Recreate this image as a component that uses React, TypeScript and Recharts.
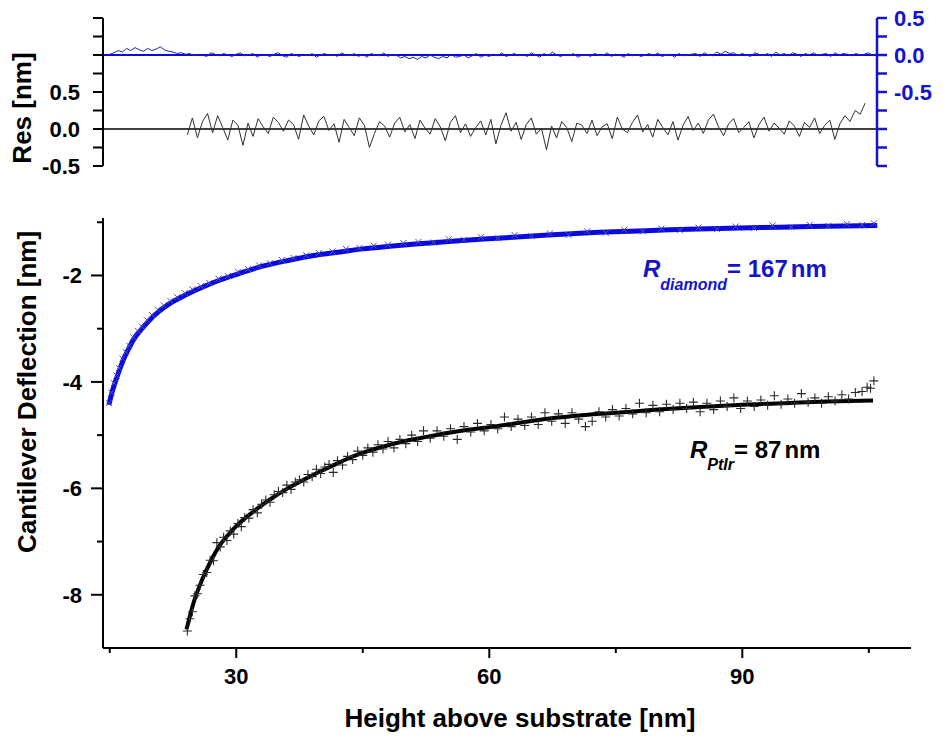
import React from "react";
import { ComposedChart, Line, Scatter, XAxis, YAxis, ReferenceLine } from "recharts";

const FONT = "'Liberation Sans', Arial, Helvetica, sans-serif";
const BLUE = "#1414cc";
const BLUE_LINE = "#0a0ae0";

// main panel: fitted curves [height, deflection]
const diamondFit = [
  [14.9, -4.43], [15.3, -4.18], [15.6, -4.03], [16.1, -3.8], [16.6, -3.59], [17.2, -3.39],
  [17.8, -3.21], [18.7, -3.02], [19.7, -2.84], [20.8, -2.68], [22.1, -2.53], [23.8, -2.38],
  [25.7, -2.24], [28, -2.09], [30.4, -1.96], [33, -1.83], [36.4, -1.71], [39, -1.63],
  [42.3, -1.56], [45, -1.5], [48.2, -1.45], [52, -1.4], [56, -1.35], [61, -1.3],
  [67, -1.24], [73, -1.19], [80, -1.15], [86, -1.12], [92, -1.1], [98, -1.08], [106, -1.06],
];

const ptirFit = [
  [24.1, -8.65], [25, -8.12], [26, -7.7], [27, -7.36], [28, -7.08], [29, -6.88], [30, -6.71],
  [32, -6.44], [34, -6.21], [36, -6.01], [38, -5.84], [40, -5.68], [42, -5.53], [44, -5.39],
  [46, -5.28], [48, -5.19], [50, -5.11], [52, -5.05], [55, -4.96], [58, -4.89], [60, -4.85],
  [63, -4.78], [66, -4.71], [70, -4.64], [75, -4.58], [80, -4.52], [85, -4.47], [90, -4.43],
  [95, -4.4], [100, -4.37], [105.5, -4.35],
];

// measured points
const diamondData = [
  [14.9, -4.4], [15.2, -4.2], [15.5, -4.02], [15.8, -3.88], [16.1, -3.74], [16.5, -3.56],
  [16.9, -3.44], [17.3, -3.32], [17.8, -3.16], [18.3, -3.04], [18.8, -2.96], [19.4, -2.84],
  [20.0, -2.74], [20.7, -2.64], [21.4, -2.56], [22.2, -2.48], [23.0, -2.41], [23.9, -2.33],
  [24.8, -2.26], [25.8, -2.2], [26.8, -2.14], [27.9, -2.06], [29.0, -2.01], [30.2, -1.93],
  [31.4, -1.88], [32.7, -1.81], [34.0, -1.77], [35.4, -1.71], [36.8, -1.67], [38.3, -1.62],
  [39.8, -1.58], [41.4, -1.55], [43.0, -1.5], [44.6, -1.48], [46.3, -1.44], [48.0, -1.42],
  [49.8, -1.39], [51.6, -1.37], [53.4, -1.38], [55.2, -1.32], [57.0, -1.33], [59.0, -1.28],
  [61.0, -1.3], [63.0, -1.24], [65.0, -1.26], [67.2, -1.21], [69.4, -1.24], [71.6, -1.17],
  [73.8, -1.2], [76.0, -1.14], [78.2, -1.17], [80.4, -1.12], [82.6, -1.15], [84.8, -1.1],
  [87.0, -1.13], [89.2, -1.08], [91.4, -1.11], [93.6, -1.06], [95.8, -1.09], [98.0, -1.05],
  [100.2, -1.07], [102.4, -1.03], [104.2, -1.05], [105.6, -1.02],
];

const ptirData = [
  [24.2, -8.68], [24.5, -8.45], [24.8, -8.32], [25.1, -8.02], [25.4, -7.98], [25.7, -7.82],
  [26.1, -7.62], [26.5, -7.58], [26.9, -7.35], [27.3, -7.36], [27.7, -7.02], [28.1, -7.1],
  [28.5, -6.92], [28.9, -6.98], [29.3, -6.8], [29.7, -6.86], [30.2, -6.66], [30.6, -6.72],
  [31.0, -6.55], [31.5, -6.56], [32.0, -6.4], [32.5, -6.46], [33.0, -6.3], [33.5, -6.22],
  [34.0, -6.26], [34.5, -6.12], [35.0, -6.06], [35.5, -6.08], [36.0, -5.94], [36.5, -6.02],
  [37.0, -5.88], [37.5, -5.84], [38.0, -5.88], [38.5, -5.74], [39.0, -5.78], [39.5, -5.64],
  [40.0, -5.72], [40.5, -5.6], [41.0, -5.55], [41.5, -5.7], [42.0, -5.48], [42.6, -5.56],
  [43.2, -5.4], [43.8, -5.46], [44.4, -5.3], [45.0, -5.38], [45.6, -5.24], [46.2, -5.32],
  [46.8, -5.18], [47.4, -5.26], [48.0, -5.12], [48.7, -5.24], [49.4, -5.08], [50.1, -5.16],
  [50.8, -5.0], [51.5, -5.12], [52.2, -4.92], [53.0, -5.06], [53.8, -4.92], [54.6, -5.02],
  [55.4, -4.88], [56.2, -5.08], [57.0, -4.84], [57.8, -4.94], [58.6, -4.78], [59.4, -4.92],
  [60.2, -4.8], [61.0, -4.88], [61.8, -4.66], [62.6, -4.84], [63.4, -4.7], [64.2, -4.82],
  [65.0, -4.66], [65.8, -4.8], [66.6, -4.58], [67.4, -4.74], [68.2, -4.6], [69.0, -4.78],
  [69.8, -4.58], [70.6, -4.7], [71.4, -4.84], [72.2, -4.74], [73.0, -4.56], [73.8, -4.66],
  [74.6, -4.52], [75.4, -4.64], [76.2, -4.5], [77.0, -4.6], [77.8, -4.4], [78.6, -4.58],
  [79.4, -4.44], [80.2, -4.56], [81.0, -4.42], [81.8, -4.52], [82.6, -4.4], [83.4, -4.5],
  [84.2, -4.38], [85.0, -4.56], [85.8, -4.4], [86.6, -4.52], [87.4, -4.36], [88.2, -4.46],
  [89.0, -4.3], [89.8, -4.5], [90.6, -4.36], [91.4, -4.46], [92.2, -4.34], [93.0, -4.44],
  [93.8, -4.26], [94.6, -4.42], [95.4, -4.32], [96.2, -4.4], [97.0, -4.22], [97.8, -4.38],
  [98.6, -4.3], [99.4, -4.4], [100.2, -4.28], [101.0, -4.36], [101.8, -4.24], [102.6, -4.32],
  [103.4, -4.2], [104.2, -4.18], [104.8, -4.1], [105.2, -4.12], [105.6, -3.98],
];

// residuals, sampled on a regular height grid
const diamondResStart = 15;
const diamondResStep = 0.5;
const diamondRes = [
  0.01, 0.03, 0.06, 0.04, 0.09, 0.06, 0.1, 0.07, 0.05, 0.09,
  0.06, 0.08, 0.11, 0.07, 0.05, 0.04, 0.02, 0.03, 0.01,
  0.02, -0.01, 0.01, 0.0, -0.02, 0.03, 0.01, -0.01, 0.02, 0.0,
  -0.02, 0.01, 0.03, -0.01, 0.0, 0.02, -0.03, 0.01, 0.0, -0.02,
  0.01, 0.03, -0.01, -0.03, 0.02, 0.0, -0.02, 0.01, -0.01, 0.02,
  -0.03, 0.0, 0.02, -0.01, 0.01, -0.02, 0.03, 0.0, -0.01, 0.02,
  -0.02, 0.01, -0.03, 0.02, 0.0, -0.01, 0.03, -0.02, 0.01, 0.0,
  -0.04, -0.02, -0.05, -0.03, -0.06, -0.02, -0.04, 0.0, -0.03, -0.05,
  -0.02, -0.04, 0.01, -0.03, -0.02, 0.0, -0.04, -0.01, 0.02, -0.03,
  0.0, -0.02, 0.01, -0.01, 0.03, -0.02, 0.0, 0.02, -0.01, 0.01,
  -0.02, 0.03, 0.0, -0.03, 0.02, -0.01, 0.04, 0.0, -0.02, 0.01,
  -0.01, 0.02, -0.03, 0.0, 0.01, -0.02, 0.02, 0.0, -0.01, 0.03,
  -0.02, 0.01, 0.0, -0.03, 0.02, -0.01, 0.01, -0.02, 0.0, 0.02,
  -0.01, 0.03, -0.02, 0.0, 0.01, -0.03, 0.02, -0.01, 0.0, 0.01,
  0.02, -0.02, 0.03, 0.0, -0.01, 0.04, 0.01, 0.05, 0.02, 0.03,
  -0.01, 0.02, 0.0, -0.02, 0.03, 0.01, -0.01, 0.02, -0.02, 0.04,
  0.0, 0.02, -0.01, 0.03, 0.01, -0.02, 0.02, 0.0, 0.03, -0.01,
  0.01, 0.02, -0.02, 0.03, 0.0, 0.02, 0.01, -0.01, 0.02, 0.0,
  0.01, 0.03, -0.01, 0.02,
];

const ptirResStart = 24.2;
const ptirResStep = 0.6;
const ptirRes = [
  -0.08, 0.15, -0.12, 0.1, 0.21, -0.05, 0.18, 0.02, -0.15, 0.12,
  0.05, -0.22, 0.08, -0.1, 0.14, 0.03, -0.06, 0.16, 0.09, -0.03,
  0.12, 0.06, -0.14, 0.19, 0.04, -0.08, 0.11, 0.17, -0.02, 0.07,
  -0.18, 0.13, 0.02, -0.09, 0.15, 0.05, -0.25, -0.06, 0.1, 0.04,
  -0.11, 0.08, 0.16, -0.04, 0.06, -0.13, 0.12, 0.01, -0.07, 0.14,
  0.03, -0.16, 0.09, 0.18, -0.05, 0.07, -0.1, 0.02, 0.11, -0.08,
  0.13, -0.2, 0.05, 0.22, -0.03, 0.09, -0.14, 0.06, 0.15, -0.07,
  0.01, -0.28, 0.04, -0.12, 0.1, 0.02, -0.17, 0.08, 0.05, -0.06,
  0.12, -0.09, 0.03, 0.07, -0.13, 0.16, 0.0, -0.05, 0.09, 0.19,
  -0.04, 0.06, -0.11, 0.13, 0.02, -0.08, 0.1, -0.15, 0.05, 0.17,
  -0.02, 0.08, -0.06, 0.12, 0.2, 0.03, -0.09, 0.07, 0.14, -0.05,
  0.02, 0.1, -0.12, 0.06, 0.16, -0.03, 0.08, 0.01, -0.07, 0.11,
  0.04, -0.1, 0.09, 0.02, 0.15, -0.06, 0.05, 0.12, -0.14, 0.07,
  0.18, 0.1, 0.25, 0.2, 0.35,
];

const xTicks = [15, 30, 45, 60, 75, 90, 105];
const xLabels = [30, 60, 90];
const yTicks = [-8, -7, -6, -5, -4, -3, -2, -1];
const yLabels = [-8, -6, -4, -2];
const resLeftTicks = [-0.5, -0.25, 0, 0.25, 0.5, 0.75, 1, 1.25, 1.5];
const resRightTicks = [-1.5, -1.25, -1, -0.75, -0.5, -0.25, 0, 0.25, 0.5];
const resLabels = [-0.5, 0, 0.5];

const pts = (a: number[][]) => a.map(([x, y]) => ({ x, y }));
const grid = (start: number, step: number, ys: number[]) =>
  ys.map((y, i) => ({ x: +(start + i * step).toFixed(2), y }));

const PlusMark = (p: any) => {
  const { cx, cy } = p;
  if (cx == null || cy == null) return null;
  return (
    <path d={`M${cx - 4.5},${cy}H${cx + 4.5}M${cx},${cy - 4.5}V${cy + 4.5}`} stroke="#2a2a2a" strokeWidth={1.1} fill="none" />
  );
};

const CrossMark = (p: any) => {
  const { cx, cy } = p;
  if (cx == null || cy == null) return null;
  return (
    <path d={`M${cx - 3},${cy - 3}L${cx + 3},${cy + 3}M${cx - 3},${cy + 3}L${cx + 3},${cy - 3}`} stroke="#5050b0" strokeWidth={1} fill="none" />
  );
};

const txt = { fontFamily: FONT, fontWeight: 700, fontSize: 22 } as const;

const XTick = (p: any) => {
  const { x, y, payload } = p;
  const major = xLabels.includes(payload.value);
  return (
    <g>
      <line x1={x} x2={x} y1={y} y2={y + (major ? 10 : 5)} stroke="#000" strokeWidth={2} />
      {major && (
        <text x={x} y={y + 36} textAnchor="middle" fill="#000" style={txt}>{payload.value}</text>
      )}
    </g>
  );
};

const YTick = (p: any) => {
  const { x, y, payload } = p;
  const major = yLabels.includes(payload.value);
  return (
    <g>
      <line x1={x} x2={x - (major ? 12 : 6)} y1={y} y2={y} stroke="#000" strokeWidth={2} />
      {major && (
        <text x={x - 21} y={y} dy="0.36em" textAnchor="end" fill="#000" style={txt}>{payload.value}</text>
      )}
    </g>
  );
};

const ResLeftTick = (p: any) => {
  const { x, y, payload } = p;
  const lab = resLabels.includes(payload.value);
  return (
    <g>
      <line x1={x} x2={x - 10} y1={y} y2={y} stroke="#000" strokeWidth={2} />
      {lab && (
        <text x={x - 23} y={y} dy="0.36em" textAnchor="end" fill="#000" style={txt}>{payload.value.toFixed(1)}</text>
      )}
    </g>
  );
};

const ResRightTick = (p: any) => {
  const { x, y, payload } = p;
  const lab = resLabels.includes(payload.value);
  return (
    <g>
      <line x1={x} x2={x + 10} y1={y} y2={y} stroke={BLUE} strokeWidth={2.5} />
      {lab && (
        <text x={x + 17} y={y} dy="0.36em" textAnchor="start" fill={BLUE} style={txt}>{payload.value.toFixed(1)}</text>
      )}
    </g>
  );
};

export default function App() {
  return (
    <div style={{ position: "absolute", left: 0, top: 0, width: 943, height: 737, background: "#fff" }}>
      <div style={{ position: "absolute", left: 0, top: 0 }}>
        <ComposedChart width={943} height={200} margin={{ top: 18, right: 6, bottom: 34, left: 43 }}>
          <XAxis type="number" dataKey="x" domain={[14.2, 106]} allowDataOverflow hide />
          <YAxis
            yAxisId="left" orientation="left" type="number" dataKey="y" width={60}
            domain={[-0.5, 1.5]} allowDataOverflow ticks={resLeftTicks} interval={0}
            tickSize={0} tickMargin={0} tickLine={false} tick={ResLeftTick}
            axisLine={{ stroke: "#000", strokeWidth: 2 }}
          />
          <YAxis
            yAxisId="right" orientation="right" type="number" dataKey="y" width={60}
            domain={[-1.5, 0.5]} allowDataOverflow ticks={resRightTicks} interval={0}
            tickSize={0} tickMargin={0} tickLine={false} tick={ResRightTick}
            axisLine={{ stroke: BLUE, strokeWidth: 2.5 }}
          />
          <ReferenceLine yAxisId="left" y={0} stroke="#000" strokeWidth={1.5} />
          <ReferenceLine yAxisId="right" y={0} stroke={BLUE_LINE} strokeWidth={2} />
          <Line
            yAxisId="right" data={grid(diamondResStart, diamondResStep, diamondRes)} dataKey="y"
            type="linear" stroke="#2020c0" strokeWidth={1} dot={false} isAnimationActive={false}
          />
          <Line
            yAxisId="left" data={grid(ptirResStart, ptirResStep, ptirRes)} dataKey="y"
            type="linear" stroke="#303030" strokeWidth={1} dot={false} isAnimationActive={false}
          />
        </ComposedChart>
      </div>
      <div style={{ position: "absolute", left: 0, top: 0 }}>
        <ComposedChart width={943} height={737} margin={{ top: 218, right: 32, bottom: 49, left: 43 }}>
          <XAxis
            type="number" dataKey="x" domain={[14.2, 110]} allowDataOverflow ticks={xTicks} interval={0}
            height={40} tickSize={0} tickMargin={0} tickLine={false} tick={XTick}
            axisLine={{ stroke: "#000", strokeWidth: 2 }}
          />
          <YAxis
            type="number" dataKey="y" width={60} domain={[-9, -0.92]} allowDataOverflow ticks={yTicks} interval={0}
            tickSize={0} tickMargin={0} tickLine={false} tick={YTick}
            axisLine={{ stroke: "#000", strokeWidth: 2 }}
          />
          <Scatter data={pts(diamondData)} shape={CrossMark} isAnimationActive={false} />
          <Line
            data={pts(diamondFit)} dataKey="y" type="monotone" stroke={BLUE_LINE} strokeWidth={5}
            dot={false} isAnimationActive={false}
          />
          <Scatter data={pts(ptirData)} shape={PlusMark} isAnimationActive={false} />
          <Line
            data={pts(ptirFit)} dataKey="y" type="monotone" stroke="#000" strokeWidth={4}
            dot={false} isAnimationActive={false}
          />
        </ComposedChart>
      </div>
      <svg width={943} height={737} style={{ position: "absolute", left: 0, top: 0, pointerEvents: "none" }}>
        <text transform="translate(31,108) rotate(-90)" textAnchor="middle" fill="#000"
          style={{ fontFamily: FONT, fontWeight: 700, fontSize: 26 }}>Res [nm]</text>
        <text transform="translate(36,392) rotate(-90)" textAnchor="middle" fill="#000"
          style={{ fontFamily: FONT, fontWeight: 700, fontSize: 26 }}>Cantilever Deflection [nm]</text>
        <text x={520} y={727} textAnchor="middle" fill="#000"
          style={{ fontFamily: FONT, fontWeight: 700, fontSize: 26 }}>Height above substrate [nm]</text>
        <text x={643} y={277} fill={BLUE} style={{ fontFamily: FONT, fontWeight: 700, fontSize: 24 }}>
          <tspan fontStyle="italic">R</tspan>
          <tspan fontStyle="italic" fontSize={16} dy={13}>diamond</tspan>
          <tspan dy={-13}>= 167</tspan>
          <tspan dx={3}>nm</tspan>
        </text>
        <text x={690} y={458} fill="#000" style={{ fontFamily: FONT, fontWeight: 700, fontSize: 24 }}>
          <tspan fontStyle="italic">R</tspan>
          <tspan fontStyle="italic" fontSize={16} dy={12}>PtIr</tspan>
          <tspan dy={-12}>= 87</tspan>
          <tspan dx={3}>nm</tspan>
        </text>
      </svg>
    </div>
  );
}
